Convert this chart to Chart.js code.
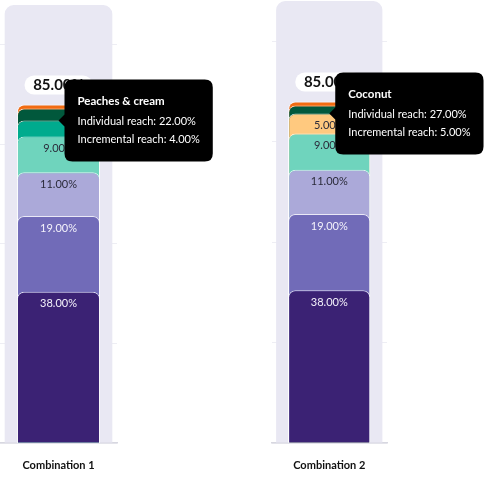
<!DOCTYPE html>
<html>
<head>
<meta charset="utf-8">
<title>Reach by combination</title>
<script src="https://cdn.jsdelivr.net/npm/chart.js@4.4.1/dist/chart.umd.min.js"></script>
<style>
  html, body { margin: 0; padding: 0; background: #fff; }
  #wrap { position: relative; width: 497px; height: 481px; overflow: hidden; }
  canvas { position: absolute; top: 0; }
  #chart1 { left: 0; }
  #chart2 { left: 250px; }
</style>
</head>
<body>
<div id="wrap">
  <canvas id="chart1" width="240" height="481"></canvas>
  <canvas id="chart2" width="247" height="481"></canvas>
</div>
<script>
const FONT = 'Lato, "Noto Sans", sans-serif';

// --- data ---
const combinations = ['Combination 1', 'Combination 2'];
const products = ['Vanilla', 'Chocolate', 'Strawberry', 'Mint chip', 'Peaches & cream', 'Coconut', 'Pistachio', 'Mango'];
const productColors = ['#3b2274', '#716bb8', '#aba9d9', '#6fd4bd', '#00ab8e', '#ffc97f', '#01583c', '#f26b11'];
const labelColors = ['#f4f2fb', '#f4f2fb', '#2b2b3a', '#2b2b3a', '#2b2b3a', '#2b2b3a', '#ffffff', '#ffffff'];

// incremental reach (%) per product, bottom of the stack first
const incrementalReach1 = [38, 19, 11, 9, 4, 0, 3, 1];
const incrementalReach2 = [38, 19, 11, 9, 0, 5, 2, 1];
// individual reach (%) per product
const individualReach1 = [38, 31, 24, 20, 22, 0, 14, 9];
const individualReach2 = [38, 31, 24, 20, 0, 27, 14, 9];

const totalReach = [85, 85];
const hoveredProduct = ['Peaches & cream', 'Coconut'];
const yTicks = [0, 25, 50, 75, 100];
const panelMax = 110;

const pct = v => v.toFixed(2) + '%';

// tooltip sits on the top edge of the hovered segment
const TooltipPlugin = Chart.Tooltip || Chart.registry.getPlugin('tooltip');
TooltipPlugin.positioners.segmentTop = function (items) {
    if (!items.length) return false;
    const el = items[0].element;
    return { x: el.x, y: el.y };
};

// segment labels + total pill
const reachLabels = {
    id: 'reachLabels',
    afterDatasetsDraw(chart, args, opts) {
        const ctx = chart.ctx;
        ctx.save();
        ctx.textAlign = 'center';
        ctx.textBaseline = 'middle';
        ctx.font = '11px ' + FONT;
        let top = Infinity, cx = 0;
        chart.data.datasets.forEach((ds, i) => {
            if (ds.isPanel) return;
            const bar = chart.getDatasetMeta(i).data[0];
            if (bar.y < top) { top = bar.y; cx = bar.x; }
            if (ds.increment < 5) return;
            ctx.fillStyle = ds.labelColor;
            ctx.fillText(pct(ds.increment), bar.x, bar.y + 12);
        });

        // total pill
        const w = 68, h = 19, r = 9.5;
        const x = cx - w / 2, y = top - 10 - h;
        ctx.beginPath();
        ctx.moveTo(x + r, y);
        ctx.lineTo(x + w - r, y);
        ctx.arc(x + w - r, y + r, r, -Math.PI / 2, Math.PI / 2);
        ctx.lineTo(x + r, y + h);
        ctx.arc(x + r, y + r, r, Math.PI / 2, Math.PI * 1.5);
        ctx.closePath();
        ctx.fillStyle = '#ffffff';
        ctx.fill();
        ctx.fillStyle = '#111111';
        ctx.font = 'bold 15px ' + FONT;
        ctx.fillText(pct(opts.total), cx, y + h / 2 + 0.5);
        ctx.restore();
    }
};

function buildChart(canvasId, combo, increments, individual, padding) {
    let cum = 0;
    const datasets = [];
    products.forEach((name, i) => {
        const v = increments[i];
        if (!v) return;
        cum += v;
        datasets.push({
            label: name,
            data: [cum],
            increment: v,
            individual: individual[i],
            labelColor: labelColors[i],
            backgroundColor: productColors[i],
            borderColor: 'rgba(255,255,255,0.75)',
            borderWidth: 1,
            borderSkipped: 'bottom',
            borderRadius: { topLeft: 7, topRight: 7 },
            barPercentage: 0.71,
            categoryPercentage: 1,
            grouped: false,
            order: i
        });
    });
    // light background column behind the stack
    datasets.push({
        label: 'panel',
        isPanel: true,
        data: [panelMax],
        backgroundColor: '#e9e8f3',
        borderWidth: 0,
        borderSkipped: 'bottom',
        borderRadius: { topLeft: 9, topRight: 9 },
        barPercentage: 0.92,
        categoryPercentage: 1,
        grouped: false,
        order: 99
    });

    const chart = new Chart(document.getElementById(canvasId), {
        type: 'bar',
        data: { labels: [combinations[combo]], datasets },
        options: {
            responsive: false,
            animation: false,
            events: [],
            layout: { padding },
            scales: {
                x: {
                    grid: { display: false, drawTicks: false },
                    border: { display: true, color: '#d7d7e0', width: 1.5 },
                    ticks: { padding: 16, color: '#111111', font: { family: FONT, size: 11, weight: 'bold' } },
                    afterFit: s => { s.height = 38; }
                },
                y: {
                    min: 0,
                    max: panelMax,
                    afterBuildTicks: s => { s.ticks = yTicks.map(v => ({ value: v })); },
                    ticks: { display: false },
                    grid: { color: '#eeeef4', drawTicks: false },
                    border: { display: false }
                }
            },
            plugins: {
                legend: { display: false },
                reachLabels: { total: totalReach[combo] },
                tooltip: {
                    position: 'segmentTop',
                    filter: item => !item.dataset.isPanel,
                    backgroundColor: '#000000',
                    titleColor: '#ffffff',
                    bodyColor: '#ffffff',
                    titleFont: { family: FONT, size: 11.5, weight: 'bold', lineHeight: '18px' },
                    bodyFont: { family: FONT, size: 11, lineHeight: '18px' },
                    titleMarginBottom: 2,
                    bodySpacing: 0,
                    padding: 13,
                    cornerRadius: 8,
                    caretSize: 6,
                    caretPadding: 0,
                    xAlign: 'left',
                    yAlign: 'center',
                    displayColors: false,
                    callbacks: {
                        title: items => items[0].dataset.label,
                        label: item => [
                            'Individual reach: ' + pct(item.dataset.individual),
                            'Incremental reach: ' + pct(item.dataset.increment)
                        ]
                    }
                }
            }
        },
        plugins: [reachLabels]
    });

    const idx = datasets.findIndex(d => d.label === hoveredProduct[combo]);
    chart.tooltip.setActiveElements([{ datasetIndex: idx, index: 0 }], { x: 0, y: 0 });
    chart.update('none');
    return chart;
}

buildChart('chart1', 0, incrementalReach1, individualReach1, { left: 0, right: 123, top: 5, bottom: 0 });
buildChart('chart2', 1, incrementalReach2, individualReach2, { left: 21.5, right: 110, top: 1, bottom: 0 });
</script>
</body>
</html>
